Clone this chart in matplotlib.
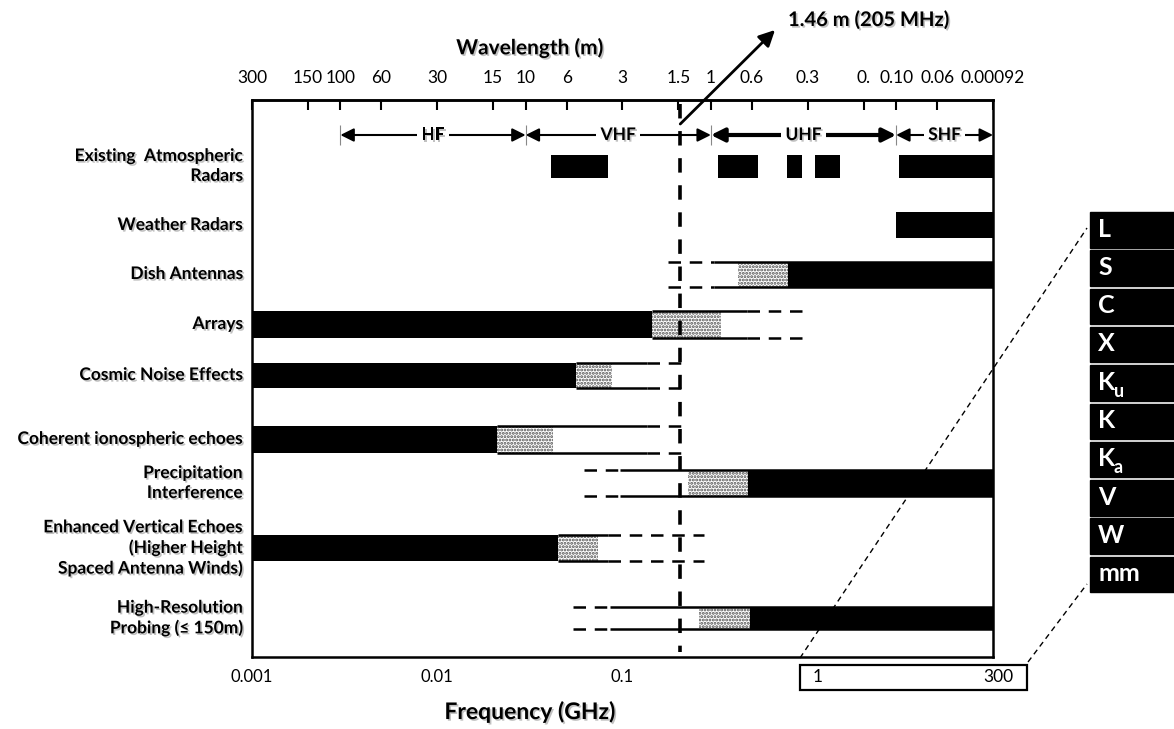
import matplotlib.pyplot as plt
import matplotlib.patheffects as pe
from matplotlib.patches import Rectangle
from matplotlib.ticker import NullLocator

plt.rcParams['font.family'] = ['Lato', 'DejaVu Sans']
plt.rcParams['hatch.linewidth'] = 1.4

# ---- data (frequencies in GHz) ----
rows = ["Existing  Atmospheric\nRadars", "Weather Radars", "Dish Antennas", "Arrays",
        "Cosmic Noise Effects", "Coherent ionospheric echoes",
        "Precipitation\nInterference",
        "Enhanced Vertical Echoes\n(Higher Height\nSpaced Antenna Winds)",
        "High-Resolution\nProbing (\u2264 150m)"]

# solid black spans per row
black_spans = [
    [(0.041, 0.083), (0.326, 0.54), (0.77, 0.93), (1.1, 1.5), (3.1, 10)],
    [(3.0, 10)],
    [(0.78, 10)],
    [(0.001, 0.145)],
    [(0.001, 0.056)],
    [(0.001, 0.021)],
    [(0.474, 10)],
    [(0.001, 0.045)],
    [(0.486, 10)],
]
# speckled transition zone per row (None = none)
stipple = [None, None, (0.42, 0.78), (0.145, 0.34), (0.056, 0.088),
           (0.021, 0.042), (0.227, 0.474), (0.045, 0.074), (0.26, 0.486)]
# outline (solid) and extension (dashed) spans
solid_lines = [None, None, (0.31, 10), (0.145, 0.47), (0.056, 0.136),
               (0.021, 0.136), (0.0975, 10), (0.045, 0.083), (0.086, 10)]
dashed_lines = [None, None, (0.175, 0.31), (0.47, 0.95), (0.136, 0.22),
                (0.136, 0.225), (0.0616, 0.0975), (0.083, 0.274), (0.054, 0.086)]

bands = ["HF", "VHF", "UHF", "SHF"]
band_lo = [0.003, 0.03, 0.3, 3]
band_hi = [0.03, 0.3, 3, 10]

wl_values = [300, 150, 100, 60, 30, 15, 10, 6, 3, 1.5, 1, 0.6, 0.3, 0.15, 0.1, 0.06, 0.03]
wl_labels = ["300", "150", "100", "60", "30", "15", "10", "6", "3", "1.5", "1", "0.6",
             "0.3", "0.", "0.10", "0.06", "0.00092"]

freq_ticks = [0.001, 0.01, 0.1]
freq_labels = ["0.001", "0.01", "0.1"]

marker_freq = 0.205  # GHz (1.46 m)

radar_bands = ["L", "S", "C", "X", "K", "K", "K", "V", "W", "mm"]
radar_subs = ["", "", "", "", "u", "", "a", "", "", ""]

# ---- layout (pixel rows, axis y runs in pixels) ----
row_y = [166, 225, 274, 324, 375, 439, 483, 548, 618]
row_h = [23, 26, 25, 27, 25, 27, 26, 26, 22]
band_y = 135

W, H = 1174, 729
fig = plt.figure(figsize=(W / 100, H / 100), dpi=100)
ax = fig.add_axes([252 / W, 1 - 657 / H, 741 / W, 557 / H])
ax.set_xscale('log')
ax.set_xlim(0.001, 10)
ax.set_ylim(657, 100)
for s in ax.spines.values():
    s.set_linewidth(1.8)

shadow = [pe.withSimplePatchShadow(offset=(1.2, -1.2), shadow_rgbFace='#999999', alpha=0.6)]

for i, y in enumerate(row_y):
    h = row_h[i]
    for lo, hi in black_spans[i]:
        ax.barh(y, hi - lo, left=lo, height=h, color='black', zorder=3)
    if stipple[i]:
        lo, hi = stipple[i]
        ax.barh(y, hi - lo, left=lo, height=h, facecolor='white', hatch='.....',
                edgecolor='#505050', linewidth=0, zorder=2)
    if solid_lines[i]:
        lo, hi = solid_lines[i]
        ax.hlines([y - h / 2, y + h / 2], lo, hi, colors='black', lw=1.8, zorder=2)
    if dashed_lines[i]:
        lo, hi = dashed_lines[i]
        ax.hlines([y - h / 2, y + h / 2], lo, hi, colors='black', lw=1.8,
                  linestyles=(0, (5, 3.5)), zorder=2)
    ax.text(-0.012, y, rows[i], transform=ax.get_yaxis_transform(), ha='right',
            va='center', fontsize=12.5, fontweight='bold', linespacing=1.3,
            path_effects=shadow)

# band arrows
for name, lo, hi in zip(bands, band_lo, band_hi):
    lw = 3.0 if name == "UHF" else 1.5
    ax.annotate("", xy=(hi, band_y), xytext=(lo, band_y),
                arrowprops=dict(arrowstyle='<|-|>', lw=lw, color='black',
                                mutation_scale=20, shrinkA=0, shrinkB=0), zorder=4)
    mid = (lo * hi) ** 0.5
    ax.text(mid, band_y, name, ha='center', va='center', fontsize=12.5,
            fontweight='bold', zorder=5, path_effects=shadow,
            bbox=dict(boxstyle='square,pad=0.25', fc='white', ec='none'))
ax.vlines(band_lo, band_y - 10, band_y + 10, colors='#888888', lw=0.8, zorder=6)

# 205 MHz dashed marker
ax.vlines(marker_freq, 104, 652, colors='black', lw=2.6, linestyles=(0, (4, 3.5)), zorder=7)

# ticks
ax.set_yticks([])
ax.set_xticks(freq_ticks, freq_labels)
ax.xaxis.set_minor_locator(NullLocator())
ax.tick_params(axis='x', length=0, pad=9, labelsize=12)

top = ax.secondary_xaxis('top')
top.set_xticks([0.3 / w for w in wl_values], wl_labels)
top.xaxis.set_minor_locator(NullLocator())
top.tick_params(axis='x', direction='in', length=7, width=1.5, pad=10, labelsize=12.5)
top.spines['top'].set_linewidth(1.8)

fig.text(530 / W, 1 - 48 / H, "Wavelength (m)", ha='center', va='center',
         fontsize=15, fontweight='bold', path_effects=shadow)
fig.text(530 / W, 1 - 712 / H, "Frequency (GHz)", ha='center', va='center',
         fontsize=16.5, fontweight='bold', path_effects=shadow)

# overlay in pixel coordinates for annotations outside the plot
ov = fig.add_axes([0, 0, 1, 1], facecolor='none')
ov.set_xlim(0, W)
ov.set_ylim(H, 0)
ov.axis('off')

ov.annotate("", xy=(775, 30), xytext=(marker_freq, 124), textcoords=ax.transData,
            arrowprops=dict(arrowstyle='-|>', lw=2, color='black', mutation_scale=24,
                            shrinkA=0, shrinkB=0))
ov.text(788, 20, "1.46 m (205 MHz)", ha='left', va='center', fontsize=14.5,
        fontweight='bold', path_effects=shadow)

# zoom box 1 - 300 GHz
ov.add_patch(Rectangle((800, 665), 227, 25, fill=False, ec='black', lw=1.6))
ov.text(818, 677, "1", ha='center', va='center', fontsize=12.5)
ov.text(1013, 677, "300", ha='right', va='center', fontsize=12.5)
ov.plot([800, 1087], [658, 228], ls=(0, (4, 3)), color='black', lw=1)
ov.plot([1028, 1087], [662, 584], ls=(0, (4, 3)), color='black', lw=1)

# radar band letter blocks
for k, (lab, sub) in enumerate(zip(radar_bands, radar_subs)):
    y0 = 212 + k * 38.3
    ov.add_patch(Rectangle((1090, y0), 90, 35.5, color='black'))
    ov.text(1098, y0 + 17, lab, color='white', fontsize=18, fontweight='bold',
            ha='left', va='center')
    if sub:
        ov.text(1114, y0 + 26, sub, color='white', fontsize=13, fontweight='bold',
                ha='left', va='center')

fig.savefig("out.png", dpi=100)
